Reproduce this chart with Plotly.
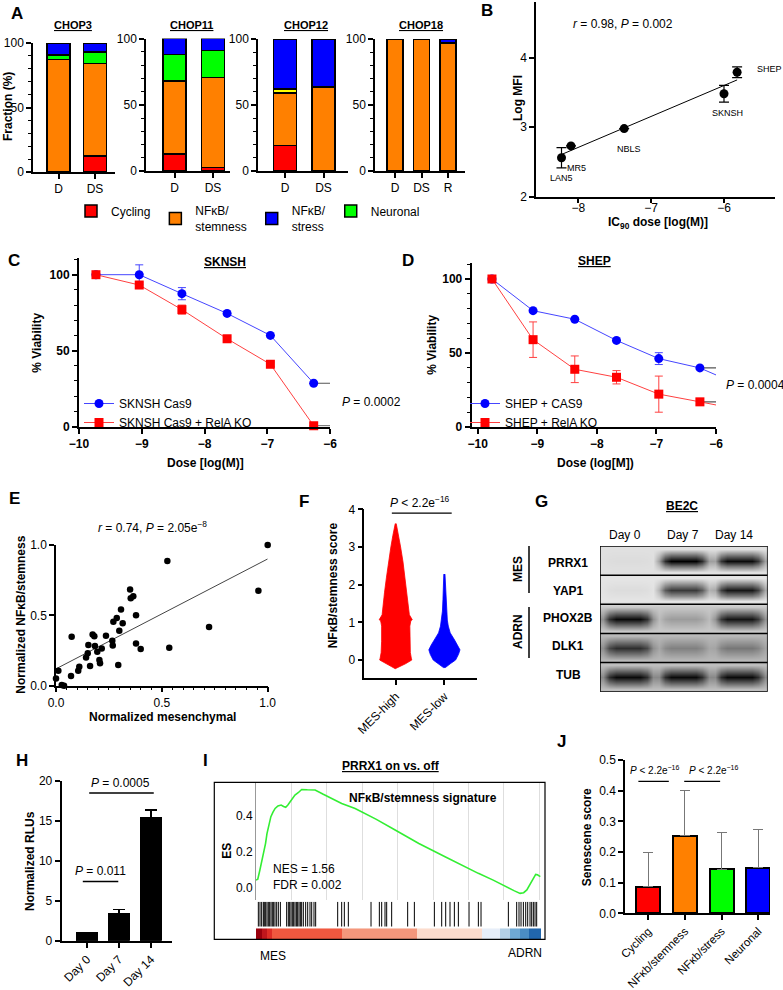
import numpy as np
import plotly.graph_objects as go

W, H = 783, 990
FONT = 'Liberation Sans, Arial, Helvetica, sans-serif'

# ======================= DATA =======================
# Panel A: stacked fractions (%)
chop_names = ['CHOP3', 'CHOP11', 'CHOP12', 'CHOP18']
chop_conditions = [['D', 'DS'], ['D', 'DS'], ['D', 'DS'], ['D', 'DS', 'R']]
frac_cycling = [[0, 12.4], [12.8, 2.8], [19.4, 0], [0, 0, 0]]
frac_stemness = [[87.3, 71.6], [55.1, 67.6], [39.6, 63.7], [100, 100, 97]]
frac_other = [[0, 0], [0, 0], [3.0, 0], [0, 0, 0]]
frac_neuronal = [[3.4, 9.0], [20.1, 20.6], [0, 0], [0, 0, 0]]
frac_stress = [[9.3, 7.0], [12.0, 9.0], [38.0, 36.3], [0, 0, 3.0]]

# Panel B
b_lines = ['LAN5', 'MR5', 'NBLS', 'SKNSH', 'SHEP']
b_ic90 = [-8.23, -8.10, -7.37, -6.00, -5.82]
b_logmfi = [2.56, 2.73, 2.98, 3.48, 3.79]
b_err = [0.145, 0, 0, 0.12, 0.077]

# Panel C (SKNSH)
dose_c = [-9.73, -9.04, -8.36, -7.64, -6.95, -6.26]
c_cas9 = [100, 100, 87.5, 74.5, 60, 28.5]
c_cas9_err = [0, 6.5, 4, 0, 0, 0]
c_ko = [100, 93.2, 77, 57.8, 41, 0.5]
c_ko_err = [0, 1.5, 3, 1, 1.5, 0]

# Panel D (SHEP)
dose_d = [-9.76, -9.07, -8.37, -7.67, -6.96, -6.27]
d_cas9 = [100, 78.6, 72.8, 58.5, 46.2, 39.9]
d_cas9_err = [0, 0, 0, 0, 4, 0]
d_ko = [100, 59, 39, 33.6, 22.2, 17]
d_ko_err = [0, 12, 9, 4.5, 12.2, 2]
d_tail_dose = -5.99
d_cas9_tail = 35
d_ko_tail = 14.8

# Panel E
e_mes = [0.0, 0.011, 0.027, 0.038, 0.071, 0.074, 0.105, 0.110, 0.142, 0.150,
         0.153, 0.161, 0.173, 0.181, 0.184, 0.195, 0.205, 0.208, 0.216, 0.236,
         0.266, 0.268, 0.271, 0.287, 0.294, 0.299, 0.307, 0.315, 0.350, 0.353,
         0.365, 0.378, 0.378, 0.400, 0.526, 0.535, 0.723, 0.956, 1.0]
e_nfkb = [0.052, 0.106, 0.005, 0.0, 0.069, 0.348, 0.106, 0.135, 0.201, 0.230,
          0.289, 0.140, 0.364, 0.352, 0.282, 0.241, 0.182, 0.159, 0.265, 0.355,
          0.319, 0.286, 0.454, 0.482, 0.147, 0.390, 0.542, 0.443, 0.684, 0.622,
          0.636, 0.501, 0.300, 0.260, 0.887, 0.270, 0.418, 0.674, 1.0]

# Panel F: distribution outlines (score level, half-width)
f_groups = ['MES-high', 'MES-low']
f_red_levels = [3.62, 3.3, 3.0, 2.6, 2.2, 1.8, 1.5, 1.2, 1.07, 1.04, 0.9, 0.5, 0.2, 0.05, 0.0, -0.1, -0.18, -0.23]
f_red_halfwidth = [0.01, 0.06, 0.1, 0.15, 0.19, 0.23, 0.26, 0.28, 0.34, 0.31, 0.29, 0.29, 0.3, 0.32, 0.33, 0.2, 0.08, 0.01]
f_blue_levels = [2.28, 2.0, 1.6, 1.3, 1.06, 0.9, 0.72, 0.53, 0.4, 0.27, 0.15, 0.0, -0.1, -0.2]
f_blue_halfwidth = [0.012, 0.02, 0.03, 0.04, 0.06, 0.08, 0.12, 0.21, 0.27, 0.32, 0.29, 0.23, 0.12, 0.02]

# Panel G: western blot band intensities (0 = none, 1 = black)
g_proteins = ['PRRX1', 'YAP1', 'PHOX2B', 'DLK1', 'TUB']
g_lanes = ['Day 0', 'Day 7', 'Day 14']
g_intensity = [[0.02, 1.0, 0.95],
               [0.04, 0.75, 0.9],
               [0.95, 0.22, 0.9],
               [0.75, 0.3, 0.35],
               [0.95, 0.95, 0.95]]
g_background = [0.08, 0.06, 0.18, 0.25, 0.22]

# Panel H
h_days = ['Day 0', 'Day 7', 'Day 14']
h_rlu = [1.0, 3.42, 15.4]
h_err = [0, 0.5, 1.0]

# Panel I: enrichment curve
es_rank = [0.0, 0.05, 0.11, 0.16, 0.21, 0.27, 0.31, 0.35, 0.42, 0.48, 0.54, 0.62, 0.71, 0.78,
           0.84, 0.90, 0.96, 1.03, 1.10, 1.20, 1.29, 1.45, 1.67, 1.90, 2.20, 2.42, 2.80, 3.40,
           3.93, 4.60, 5.34, 5.80, 6.28, 6.70, 7.13, 7.30, 7.46, 7.56, 7.65, 7.72, 7.79, 7.86,
           7.90, 7.95, 8.03]
es_value = [0.04, 0.045, 0.097, 0.14, 0.19, 0.246, 0.30, 0.339, 0.395, 0.42, 0.441, 0.455, 0.46,
            0.452, 0.447, 0.46, 0.478, 0.50, 0.516, 0.53, 0.547, 0.545, 0.544, 0.52, 0.49, 0.469,
            0.441, 0.38, 0.32, 0.245, 0.171, 0.125, 0.078, 0.04, -0.006, -0.02, -0.034, -0.03,
            -0.015, 0.01, 0.041, 0.06, 0.072, 0.07, 0.06]
es_hits = [0.066, 0.113, 0.16, 0.207, 0.235, 0.273, 0.311, 0.348, 0.386, 0.424, 0.461, 0.499,
           0.537, 0.584, 0.631, 0.688, 0.866, 0.913, 0.951, 0.989, 1.026, 1.064, 1.102, 1.14,
           1.177, 1.215, 1.252, 1.29, 1.337, 1.403, 1.46, 1.525, 1.573, 1.638, 1.685, 2.307,
           2.42, 2.495, 2.608, 3.249, 3.484, 3.55, 3.644, 3.691, 3.832, 4.284, 4.473, 5.038,
           5.245, 5.358, 5.48, 5.603, 5.716, 6.017, 6.281, 6.356, 7.128, 7.363, 7.429, 7.486,
           7.552, 7.618, 7.674, 7.74, 7.787, 7.834, 7.881, 7.928]
rank_bar_edges = [0, 0.16, 0.3, 0.44, 2.42, 4.54, 6.38, 6.9, 7.18, 7.46, 7.70, 8.06]
rank_bar_colors = ['#99000d', '#c0161c', '#de2d26', '#f0583f', '#f4977c', '#fcdccd',
                   '#e7eef9', '#b3d0e6', '#6fa9d4', '#4a8cc3', '#2166ac']

# Panel J
j_states = ['Cycling', 'NFκb/stemness', 'NFκb/stress', 'Neuronal']
j_score = [0.087, 0.253, 0.143, 0.149]
j_err = [0.110, 0.147, 0.120, 0.124]

# ======================= FIGURE =======================
fig = go.Figure()
layout = dict(width=W, height=H, margin=dict(l=0, r=0, t=0, b=0, autoexpand=False),
              paper_bgcolor='white', plot_bgcolor='rgba(0,0,0,0)',
              font=dict(family=FONT, size=12, color='black'),
              barmode='stack', hovermode=False, showlegend=True)
annotations = []
shapes = []


def xd(a, b):
    return [a / W, b / W]


def yd(top, bot):
    return [1 - bot / H, 1 - top / H]


def axis(**kw):
    base = dict(showline=True, linecolor='black', linewidth=1.5, ticks='outside',
                ticklen=5, tickwidth=1.5, tickcolor='black', showgrid=False,
                zeroline=False, tickfont=dict(size=12, family=FONT), fixedrange=True)
    base.update(kw)
    return base


def set_axes(i, xdom, ydom, xkw, ykw):
    s = '' if i == 1 else str(i)
    layout['xaxis' + s] = axis(domain=xdom, anchor='y' + s, **xkw)
    layout['yaxis' + s] = axis(domain=ydom, anchor='x' + s, **ykw)
    return 'x' + s, 'y' + s


def ann(x, y, text, size=12, bold=False, xanchor='center', yanchor='middle', angle=0,
        xref='paper', yref='paper', align='center'):
    if bold:
        text = '<b>' + text + '</b>'
    if xref == 'paper':
        x = x / W
    if yref == 'paper':
        y = 1 - y / H
    annotations.append(dict(x=x, y=y, xref=xref, yref=yref, text=text, showarrow=False,
                            font=dict(size=size, family=FONT, color='black'), align=align,
                            xanchor=xanchor, yanchor=yanchor, textangle=angle))


minor_y = dict(ticks='outside', ticklen=3, tickwidth=1, tickcolor='black')

# ---------- Panel A ----------
a_geom = [(33, 115, 43, 172, 58.5, 36.5, 0.63),
          (146, 230, 38.5, 171, 174.5, 38.5, 0.61),
          (258, 348, 39, 171, 285, 38.5, 0.61),
          (375, 465, 39, 171, 395, 26.5, 0.60)]
a_stack = [('Cycling', frac_cycling, '#ff0000', 1),
           ('NFκB/<br>stemness', frac_stemness, '#ff8000', 2),
           ('Other', frac_other, '#ffff00', 5),
           ('Neuronal', frac_neuronal, '#00ff00', 4),
           ('NFκB/<br>stress', frac_stress, '#0000ff', 3)]
a_title_x = [72.7, 191.7, 305.7, 420.7]
for i, (l, r, t, b, c0, sp, bw) in enumerate(a_geom):
    n = len(chop_conditions[i])
    xa, ya = set_axes(i + 1, xd(l, r), yd(t, b),
                      dict(range=[(l - c0) / sp, (r - c0) / sp], tickvals=list(range(n)),
                           ticktext=chop_conditions[i]),
                      dict(range=[0, 100], tickvals=[0, 50, 100],
                           minor=dict(dtick=10, **minor_y)))
    for name, vals, col, rank in a_stack:
        v = [val if val > 0 else None for val in vals[i]]
        fig.add_trace(go.Bar(x=list(range(n)), y=v, width=bw, name=name, legendgroup=name,
                             marker=dict(color=col, line=dict(color='black', width=1.5)),
                             showlegend=(i == 0 and name != 'Other'), legendrank=rank,
                             xaxis=xa, yaxis=ya, cliponaxis=False))
    ann(a_title_x[i], 25, '<u>' + chop_names[i] + '</u>', size=11, bold=True)
ann(8, 107, 'Fraction (%)', bold=True, angle=-90)
layout['legend'] = dict(orientation='h', x=71 / W, y=1 - 219 / H, xanchor='left',
                        yanchor='middle', font=dict(size=12), bgcolor='rgba(0,0,0,0)',
                        traceorder='normal')

# ---------- Panel B ----------
xa, ya = set_axes(5, xd(536, 775), yd(2, 196.7),
                  dict(range=[-8.58, -5.3], tickvals=[-8, -7, -6], ticklabelstandoff=-6),
                  dict(range=[2, 4.8], tickvals=[2, 3, 4]))
slope, icpt = np.polyfit(b_ic90, b_logmfi, 1)
bx = np.array([min(b_ic90), max(b_ic90)])
fig.add_trace(go.Scatter(x=bx, y=slope * bx + icpt, mode='lines', line=dict(color='black', width=1),
                         xaxis=xa, yaxis=ya, showlegend=False))
fig.add_trace(go.Scatter(x=b_ic90, y=b_logmfi, mode='markers', marker=dict(color='black', size=9),
                         error_y=dict(type='data', array=b_err, color='black', thickness=1.2, width=5),
                         xaxis=xa, yaxis=ya, showlegend=False, cliponaxis=False))
ann(623, 24, '<i>r</i> = 0.98, <i>P</i> = 0.002')
ann(518, 98, 'Log MFI', bold=True, angle=-90)
ann(658, 223, 'IC<sub>90</sub> dose [log(M)]', bold=True)
b_label_pos = [(561.7, 178, 'center'), (565, 168, 'left'), (629, 149, 'center'),
               (727.7, 113, 'center'), (755, 69, 'left')]
for (px, py, anc), name in zip(b_label_pos, b_lines):
    ann(px, py, name, size=9, xanchor=anc)

# ---------- Panel C ----------
boldtick = dict(size=12, family=FONT, weight='bold')
xa, ya = set_axes(6, xd(79, 330), yd(258, 426.5),
                  dict(range=[-10, -6], tickvals=[-10, -9, -8, -7, -6], tickfont=boldtick, linewidth=2),
                  dict(range=[0, 111], tickvals=[0, 50, 100], tickfont=boldtick, linewidth=2,
                       minor=dict(dtick=10, **minor_y)))
fig.add_trace(go.Scatter(x=[dose_c[-1], -5.92, -5.92, dose_c[-1]],
                         y=[c_cas9[-1], c_cas9[-1], c_ko[-1], c_ko[-1]], mode='lines',
                         line=dict(color='#555555', width=1.2), xaxis=xa, yaxis=ya, showlegend=False))
fig.add_trace(go.Scatter(x=dose_c, y=c_cas9, mode='lines+markers', name='SKNSH Cas9',
                         line=dict(color='#4545ff', width=1), marker=dict(color='#0000ff', size=9),
                         error_y=dict(type='data', array=c_cas9_err, color='#4545ff', thickness=1, width=4),
                         xaxis=xa, yaxis=ya, legend='legend2', cliponaxis=False))
fig.add_trace(go.Scatter(x=dose_c, y=c_ko, mode='lines+markers', name='SKNSH Cas9 + RelA KO',
                         line=dict(color='#ff4040', width=1),
                         marker=dict(color='#ff0000', size=9, symbol='square'),
                         error_y=dict(type='data', array=c_ko_err, color='#ff4040', thickness=1, width=4),
                         xaxis=xa, yaxis=ya, legend='legend2', cliponaxis=False))
ann(225, 262, '<u>SKNSH</u>', bold=True)
ann(36.7, 343, '% Viability', bold=True, angle=-90)
ann(205, 463, 'Dose [log(M)]', bold=True)
ann(340, 402, '<i>P</i> = 0.0002', xanchor='left')
layout['legend2'] = dict(x=79 / W, y=1 - 389 / H, xanchor='left', yanchor='top',
                         font=dict(size=12), bgcolor='rgba(0,0,0,0)', tracegroupgap=0)

# ---------- Panel D ----------
xa, ya = set_axes(7, xd(471.7, 716), yd(263.3, 427),
                  dict(range=[-10.1, -6], tickvals=[-10, -9, -8, -7, -6], tickfont=boldtick, linewidth=2),
                  dict(range=[0, 110.6], tickvals=[0, 50, 100], tickfont=boldtick, linewidth=2,
                       minor=dict(dtick=10, **minor_y)))
fig.add_trace(go.Scatter(x=[dose_d[-1], -5.875, -5.875, dose_d[-1]],
                         y=[d_cas9[-1], d_cas9[-1], d_ko[-1], d_ko[-1]], mode='lines',
                         line=dict(color='#555555', width=1.2), xaxis=xa, yaxis=ya, showlegend=False))
fig.add_trace(go.Scatter(x=[dose_d[-1], d_tail_dose], y=[d_cas9[-1], d_cas9_tail], mode='lines',
                         line=dict(color='#4545ff', width=1), xaxis=xa, yaxis=ya, showlegend=False))
fig.add_trace(go.Scatter(x=[dose_d[-1], d_tail_dose], y=[d_ko[-1], d_ko_tail], mode='lines',
                         line=dict(color='#ff4040', width=1), xaxis=xa, yaxis=ya, showlegend=False))
fig.add_trace(go.Scatter(x=dose_d, y=d_cas9, mode='lines+markers', name='SHEP + CAS9',
                         line=dict(color='#4545ff', width=1), marker=dict(color='#0000ff', size=9),
                         error_y=dict(type='data', array=d_cas9_err, color='#4545ff', thickness=1, width=4),
                         xaxis=xa, yaxis=ya, legend='legend3', cliponaxis=False))
fig.add_trace(go.Scatter(x=dose_d, y=d_ko, mode='lines+markers', name='SHEP + RelA KO',
                         line=dict(color='#ff4040', width=1),
                         marker=dict(color='#ff0000', size=9, symbol='square'),
                         error_y=dict(type='data', array=d_ko_err, color='#ff4040', thickness=1, width=4),
                         xaxis=xa, yaxis=ya, legend='legend3', cliponaxis=False))
ann(594, 261, '<u>SHEP</u>', bold=True)
ann(431.7, 345, '% Viability', bold=True, angle=-90)
ann(595, 463, 'Dose (log[M])', bold=True)
ann(724, 385, '<i>P</i> = 0.0004', xanchor='left')
layout['legend3'] = dict(x=465 / W, y=1 - 389 / H, xanchor='left', yanchor='top',
                         font=dict(size=12), bgcolor='rgba(0,0,0,0)', tracegroupgap=0)

# ---------- Panel E ----------
xa, ya = set_axes(8, xd(56, 267.7), yd(545, 685.7),
                  dict(range=[0, 1], tickvals=[0, 0.5, 1], ticktext=['0.0', '0.5', '1.0'],
                       minor=dict(dtick=0.05, **minor_y)),
                  dict(range=[0, 1], tickvals=[0, 0.5, 1], ticktext=['0.0', '0.5', '1.0']))
es, ei = np.polyfit(e_mes, e_nfkb, 1)
ex = np.array([min(e_mes), max(e_mes)])
fig.add_trace(go.Scatter(x=ex, y=es * ex + ei, mode='lines', line=dict(color='#444444', width=1),
                         xaxis=xa, yaxis=ya, showlegend=False))
fig.add_trace(go.Scatter(x=e_mes, y=e_nfkb, mode='markers', marker=dict(color='black', size=6.5),
                         xaxis=xa, yaxis=ya, showlegend=False, cliponaxis=False))
ann(152, 527, '<i>r</i> = 0.74, <i>P</i> = 2.05e<sup>−8</sup>')
ann(20.7, 615, 'Normalized NFκB/stemness', bold=True, angle=-90)
ann(162, 717, 'Normalized mesenchymal', bold=True)

# ---------- Panel F ----------
xa, ya = set_axes(9, xd(364.3, 477), yd(509.3, 678),
                  dict(range=[-0.646, 1.67], tickvals=[0, 1], ticktext=f_groups, tickangle=-45),
                  dict(range=[-0.477, 4], tickvals=[0, 1, 2, 3, 4]))
for k, (lv, hw, col) in enumerate([(f_red_levels, f_red_halfwidth, '#ff0000'),
                                    (f_blue_levels, f_blue_halfwidth, '#0000ff')]):
    xs = [k + w for w in hw] + [k - w for w in hw[::-1]]
    ys = list(lv) + list(lv[::-1])
    fig.add_trace(go.Scatter(x=xs, y=ys, fill='toself', fillcolor=col, mode='lines',
                             line=dict(color=col, width=0.8), xaxis=xa, yaxis=ya, showlegend=False))
fig.add_trace(go.Scatter(x=[-0.08, 1.15], y=[3.9, 3.9], mode='lines', line=dict(color='black', width=1.2),
                         xaxis=xa, yaxis=ya, showlegend=False))
ann(420, 502, '<i>P</i> < 2.2e<sup>−16</sup>')
ann(333.3, 585, 'NFκB/stemness score', bold=True, angle=-90)

# ---------- Panel G ----------
xa, ya = set_axes(10, xd(600, 767.7), yd(546, 691.7), dict(visible=False), dict(visible=False))
row_prof = [0.0, 0.5, 1.0, 0.5, 0.0]
col_prof = [0.3, 0.8, 1, 1, 1, 1, 1, 0.8, 0.3]
z = []
for p in range(len(g_proteins)):
    for rp in row_prof:
        row = []
        for ln in range(len(g_lanes)):
            for cp in col_prof:
                row.append(g_background[p] + (1 - g_background[p]) * g_intensity[p][ln] * rp * cp)
        z.append(row)
nr, nc = len(z), len(z[0])
fig.add_trace(go.Heatmap(z=z, x=list(range(nc)), y=list(range(nr)), zmin=0, zmax=1, zsmooth='best',
                         colorscale=[[0, '#f4f4f4'], [1, '#000000']], showscale=False,
                         xaxis=xa, yaxis=ya))
layout['xaxis10'].update(range=[-0.5, nc - 0.5])
layout['yaxis10'].update(range=[nr - 0.5, -0.5])
for k in range(len(g_proteins) + 1):
    yy = k * len(row_prof) - 0.5
    shapes.append(dict(type='line', xref='x10', yref='y10', x0=-0.5, x1=nc - 0.5, y0=yy, y1=yy,
                       line=dict(color='black', width=1.5)))
for xx in [-0.5, nc - 0.5]:
    shapes.append(dict(type='line', xref='x10', yref='y10', x0=xx, x1=xx, y0=-0.5, y1=nr - 0.5,
                       line=dict(color='black', width=1.5)))
ann(682, 506, '<u>BE2C</u>', bold=True)
for lx, lane in zip([625, 683.3, 734], g_lanes):
    ann(lx, 535, lane)
for py, prot in zip([563, 591, 618, 646, 675], g_proteins):
    ann(568, py, prot, bold=True)
ann(518, 569, 'MES', bold=True, angle=-90)
ann(518, 632, 'ADRN', bold=True, angle=-90)
shapes.append(dict(type='line', xref='paper', yref='paper', x0=529 / W, x1=529 / W,
                   y0=1 - 546 / H, y1=1 - 593 / H, line=dict(color='black', width=1.5)))
shapes.append(dict(type='line', xref='paper', yref='paper', x0=529 / W, x1=529 / W,
                   y0=1 - 607 / H, y1=1 - 658 / H, line=dict(color='black', width=1.5)))

# ---------- Panel H ----------
xa, ya = set_axes(11, xd(61.7, 172.3), yd(781, 940.7),
                  dict(range=[-0.79, 2.67], tickvals=[0, 1, 2], ticktext=h_days, tickangle=-45, linewidth=2),
                  dict(range=[0, 20], tickvals=[0, 5, 10, 15, 20], linewidth=2))
fig.add_trace(go.Bar(x=[0, 1, 2], y=h_rlu, width=0.66, marker=dict(color='black', line=dict(color='black', width=1)),
                     error_y=dict(type='data', array=h_err, arrayminus=[0, 0, 0], symmetric=False,
                                  color='black', thickness=1.5, width=6),
                     xaxis=xa, yaxis=ya, showlegend=False))
fig.add_trace(go.Scatter(x=[-0.13, 0.98, None, 0.07, 2.09], y=[7.4, 7.4, None, 18.5, 18.5], mode='lines',
                         line=dict(color='black', width=1.5), xaxis=xa, yaxis=ya, showlegend=False))
ann(0.41, 8.7, '<i>P</i> = 0.011', xref='x11', yref='y11')
ann(1.06, 19.7, '<i>P</i> = 0.0005', xref='x11', yref='y11')
ann(30, 861, 'Normalized RLUs', bold=True, angle=-90)

# ---------- Panel I ----------
xa, ya = set_axes(12, xd(256, 541), yd(782.3, 900),
                  dict(range=[0, 8.05], showline=False, ticks='', showticklabels=False,
                       showgrid=True, dtick=1, tick0=0, gridcolor='#dedede', gridwidth=1),
                  dict(range=[-0.071, 0.587], tickvals=[0, 0.2, 0.4], ticktext=['0.0', '0.2', '0.4'],
                       ticks='', linecolor='#999999', linewidth=1))
fig.add_trace(go.Scatter(x=es_rank, y=es_value, mode='lines', line=dict(color='#33ee33', width=1.6),
                         xaxis=xa, yaxis=ya, showlegend=False))
xa2, ya2 = set_axes(13, xd(256, 541), yd(901.7, 926.7),
                    dict(visible=False, range=[0, 8.05]), dict(visible=False, range=[0, 1]))
hx, hy = [], []
for h in es_hits:
    hx += [h, h, None]
    hy += [0, 1, None]
fig.add_trace(go.Scatter(x=hx, y=hy, mode='lines', line=dict(color='black', width=1),
                         xaxis=xa2, yaxis=ya2, showlegend=False))
xa3, ya3 = set_axes(14, xd(256, 541), yd(928.3, 939.3),
                    dict(visible=False, range=[0, 8.05]), dict(visible=False, range=[0, 1]))
nseg = len(rank_bar_colors)
cs = [[k / (nseg - 1), c] for k, c in enumerate(rank_bar_colors)]
fig.add_trace(go.Heatmap(z=[list(range(nseg))], x=rank_bar_edges, y=[0, 1], zmin=0, zmax=nseg - 1,
                         colorscale=cs, showscale=False, xaxis=xa3, yaxis=ya3))
shapes.append(dict(type='rect', xref='paper', yref='paper', x0=214.3 / W, x1=545 / W,
                   y0=1 - 939.3 / H, y1=1 - 782.3 / H, line=dict(color='black', width=1.2)))
ann(390.7, 766, '<u>PRRX1 on vs. off</u>', bold=True)
ann(226.7, 851, 'ES', bold=True, angle=-90)
ann(423, 798.3, 'NFκB/stemness signature', bold=True)
ann(271, 876.7, 'NES = 1.56<br>FDR = 0.002', xanchor='left', align='left')
ann(273.3, 956, 'MES')
ann(525, 952.7, 'ADRN')

# ---------- Panel J ----------
xa, ya = set_axes(15, xd(625, 770), yd(760, 913.3),
                  dict(range=[-0.635, 3.32], tickvals=[0, 1, 2, 3], ticktext=j_states, tickangle=-45,
                       tickfont=dict(size=11.5, family=FONT)),
                  dict(range=[0, 0.5], tickvals=[0, 0.1, 0.2, 0.3, 0.4, 0.5],
                       ticktext=['0.0', '0.1', '0.2', '0.3', '0.4', '0.5']))
fig.add_trace(go.Bar(x=[0, 1, 2, 3], y=j_score, width=0.65,
                     marker=dict(color=['#ff0000', '#ff8000', '#00ff00', '#0000ff'],
                                 line=dict(color='black', width=2)),
                     error_y=dict(type='data', array=j_err, arrayminus=[0, 0, 0, 0], symmetric=False,
                                  color='#777777', thickness=1, width=5),
                     xaxis=xa, yaxis=ya, showlegend=False))
fig.add_trace(go.Scatter(x=[-0.27, 0.56, None, 0.98, 1.96, None, 0.89, 3.09],
                         y=[0.43, 0.43, None, 0.43, 0.43, None, 0.535, 0.535], mode='lines',
                         line=dict(color='black', width=1.2), xaxis=xa, yaxis=ya, showlegend=False,
                         cliponaxis=False))
ann(0.18, 0.466, '<i>P</i> < 2.2e<sup>−16</sup>', size=10, xref='x15', yref='y15')
ann(1.79, 0.466, '<i>P</i> < 2.2e<sup>−16</sup>', size=10, xref='x15', yref='y15')
ann(1.93, 0.568, '<i>P</i> < 2.2e<sup>−16</sup>', size=10, xref='x15', yref='y15')
ann(587.3, 837, 'Senescene score', bold=True, angle=-90)

# ---------- Panel letters ----------
for L, px, py in [('A', 16.7, 14), ('B', 486.7, 11), ('C', 14, 260), ('D', 408.3, 260),
                  ('E', 14, 498), ('F', 304.3, 501.7), ('G', 541, 501.7), ('H', 21.7, 760),
                  ('I', 205, 760), ('J', 561.7, 741.7)]:
    ann(px, py, L, size=17, bold=True)

layout['annotations'] = annotations
layout['shapes'] = shapes
fig.update_layout(**layout)
fig.write_html('out.html', config={'displayModeBar': False},
               post_script="document.body.style.margin='0';document.body.style.padding='0';")
